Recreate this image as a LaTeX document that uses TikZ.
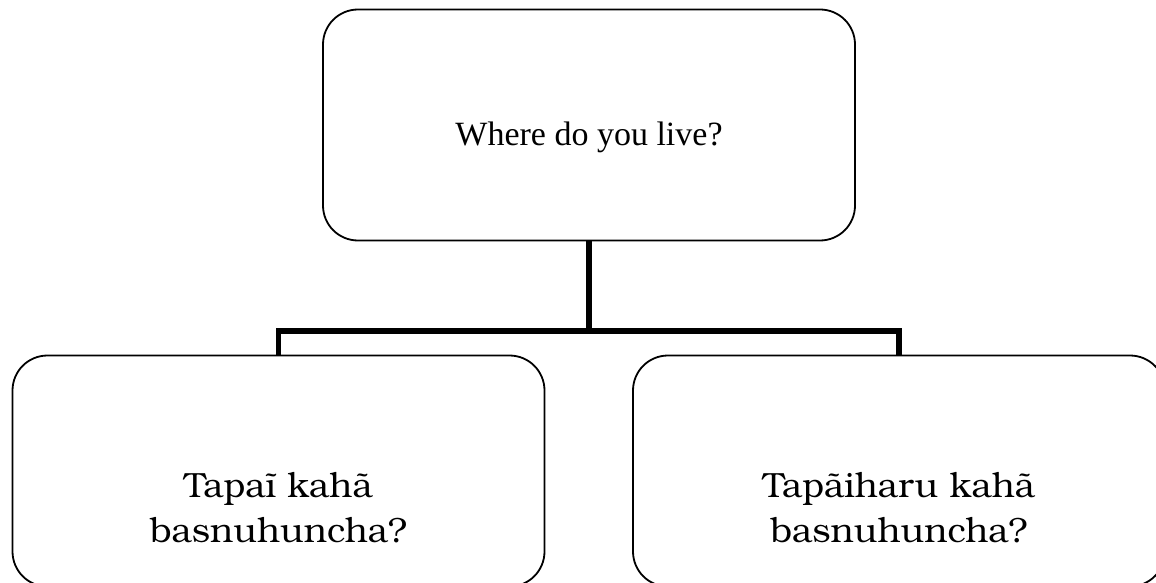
\documentclass[tikz,border=0pt]{standalone}
\usepackage{fontspec}
\setmainfont{Liberation Serif}
\newfontfamily\replyfont{TeX Gyre Bonum}
\usetikzlibrary{positioning}
\tikzset{
    qbox/.style={draw=black,line width=1.8pt,rounded corners=35pt,minimum width=532pt,minimum height=231pt,inner sep=0pt},
    asktext/.style={font=\fontsize{34}{40}\selectfont,anchor=base},
    replytext/.style={font=\replyfont\fontsize{35}{45}\selectfont,align=center},
    link/.style={draw=black,line width=5.5pt}
}
\begin{document}
\begin{tikzpicture}[x=1pt,y=-1pt]
\useasboundingbox (0,0) rectangle (1156,583);
\clip (0,0) rectangle (1156,583);
% question and the two replies
\node[qbox] (ask) at (589,125) {};
\node[qbox] (replyone) at (278.5,471) {};
\node[qbox] (replytwo) at (899,471) {};
\node[asktext] (asklabel) at ([yshift=-21pt]ask.center) {Where do you live?};
\node[replytext] (replyonelabel) at ([yshift=-37pt]replyone.center) {Tapaĩ kahã\\basnuhuncha?};
\node[replytext] (replytwolabel) at ([yshift=-37pt]replytwo.center) {Tapãiharu kahã\\basnuhuncha?};
% connectors
\coordinate (fork) at (589,331);
\draw[link] (ask.south) -- (fork);
\draw[link] (replyone.north) |- (fork) -| (replytwo.north);
\end{tikzpicture}
\end{document}
